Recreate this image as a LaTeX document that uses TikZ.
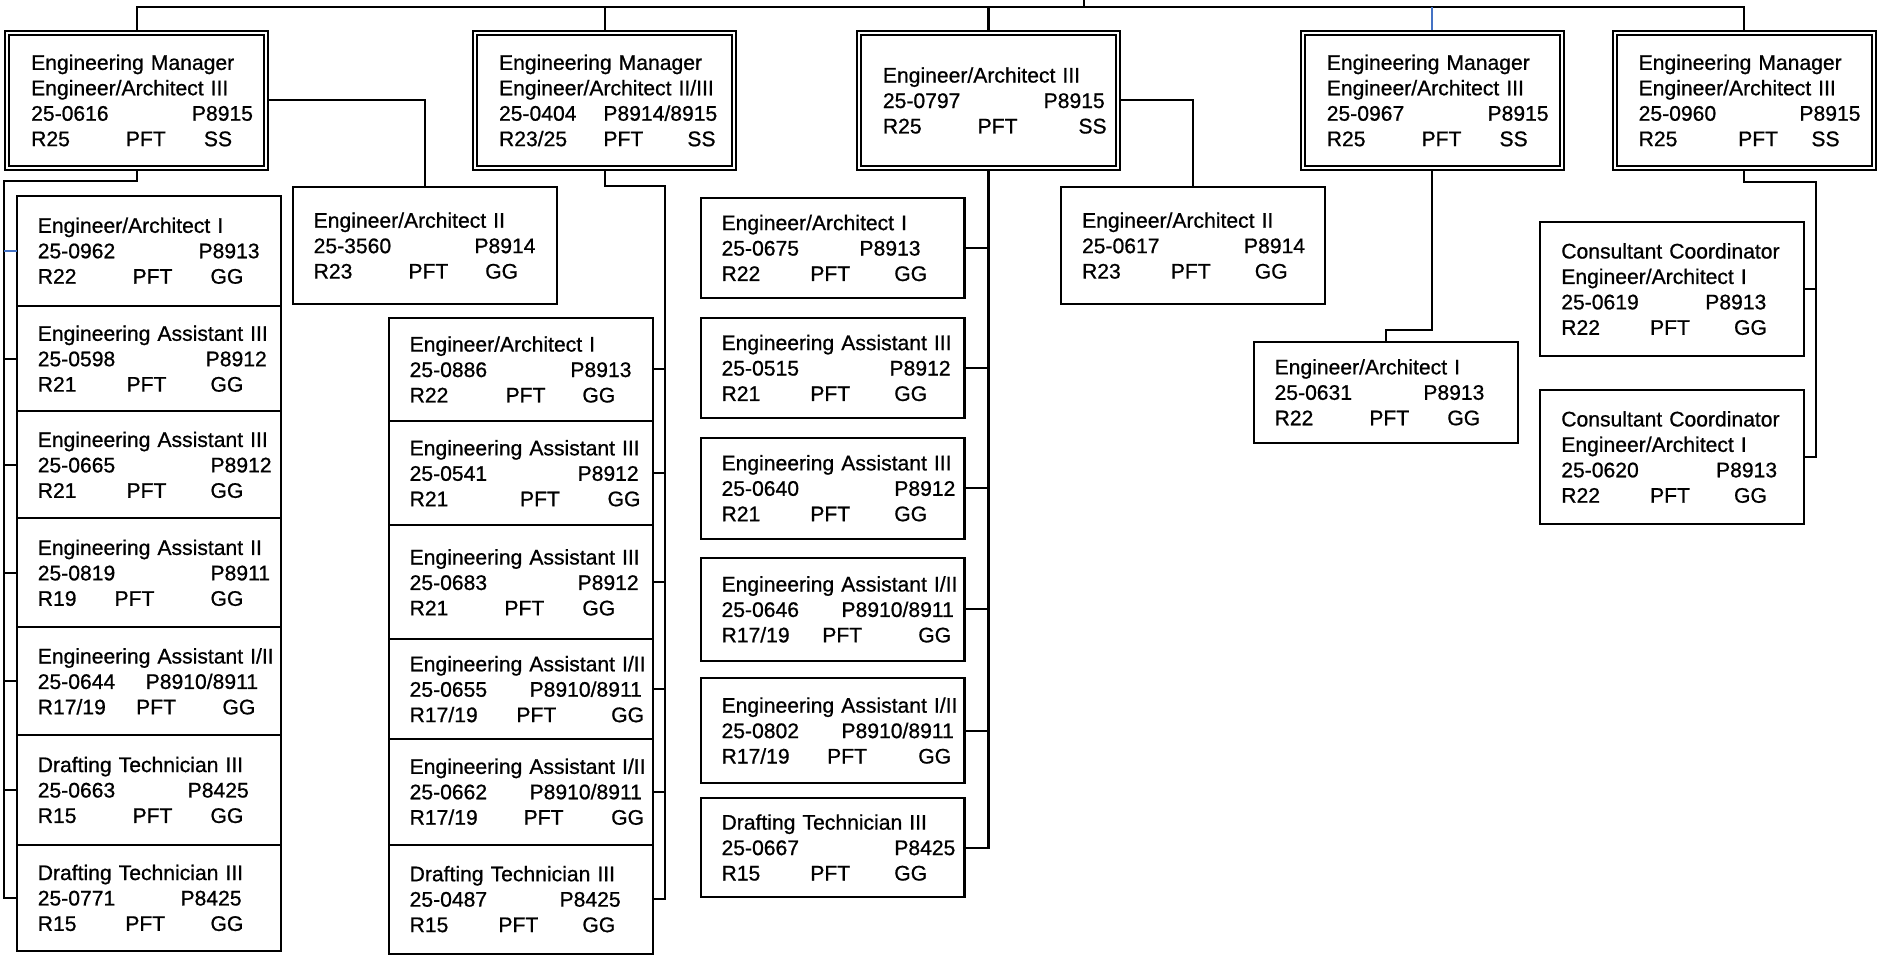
\documentclass[tikz,border=0pt]{standalone}
\usepackage{fontspec}
\setmainfont{Liberation Sans}[FakeBold=0.8]
\newlength\pxu
\setlength\pxu{0.5pt}
\newcommand\onl[1]{\makebox[0pt][l]{#1}}
\newcommand\tworow[3]{\makebox[0pt][l]{\makebox[0pt][l]{#1}\hspace*{#2\pxu}#3}}
\newcommand\threerow[5]{\makebox[0pt][l]{\makebox[0pt][l]{#1}\hspace*{#2\pxu}\makebox[0pt][l]{#3}\hspace*{\dimexpr#4\pxu-#2\pxu\relax}#5}}
\definecolor{linkblue}{RGB}{68,114,196}
\begin{document}
\begin{tikzpicture}[x=0.5pt,y=-0.5pt,
  every node/.style={font=\fontsize{8.8pt}{10.6pt}\selectfont},
  child/.style={draw, line width=0.85pt, inner xsep=8.75pt, inner ysep=0pt, outer sep=0pt,
    text width=92.5pt, align=left, anchor=north west},
  mgr/.style={draw, line width=0.8pt, double=white, double distance=0.85pt,
    inner xsep=10pt, inner ysep=0pt, outer sep=1.2pt, text width=88pt, align=left,
    minimum height=56.25pt},
  conn/.style={line width=0.85pt},
  connblue/.style={line width=0.85pt, draw=linkblue}]
\useasboundingbox (0,0) rectangle (1568,796);

% managers
\node[mgr] (m1) at (114,83.75) {\onl{Engineering Manager}\\\onl{Engineer/Architect III}\\\tworow{25-0616}{134}{P8915}\\\threerow{R25}{79}{PFT}{144}{SS}};
\node[mgr] (m2) at (504,83.75) {\onl{Engineering Manager}\\\onl{Engineer/Architect II/III}\\\tworow{25-0404}{87}{P8914/8915}\\\threerow{R23/25}{87}{PFT}{157}{SS}};
\node[mgr] (m3) at (824,83.75) {\onl{Engineer/Architect III}\\\tworow{25-0797}{134}{P8915}\\\threerow{R25}{79}{PFT}{163}{SS}};
\node[mgr] (m4) at (1194,83.75) {\onl{Engineering Manager}\\\onl{Engineer/Architect III}\\\tworow{25-0967}{134}{P8915}\\\threerow{R25}{79}{PFT}{144}{SS}};
\node[mgr] (m5) at (1454,83.75) {\onl{Engineering Manager}\\\onl{Engineer/Architect III}\\\tworow{25-0960}{134}{P8915}\\\threerow{R25}{83}{PFT}{144}{SS}};

% left column (under m1)
\node[child, minimum height=46pt] (l1) at (14,163) {\onl{Engineer/Architect I}\\\tworow{25-0962}{134}{P8913}\\\threerow{R22}{79}{PFT}{144}{GG}};
\node[child, minimum height=44pt] (l2) at (14,255) {\onl{Engineering Assistant III}\\\tworow{25-0598}{140}{P8912}\\\threerow{R21}{74}{PFT}{144}{GG}};
\node[child, minimum height=44.5pt] (l3) at (14,343) {\onl{Engineering Assistant III}\\\tworow{25-0665}{144}{P8912}\\\threerow{R21}{74}{PFT}{144}{GG}};
\node[child, minimum height=45.5pt] (l4) at (14,432) {\onl{Engineering Assistant II}\\\tworow{25-0819}{144}{P8911}\\\threerow{R19}{64}{PFT}{144}{GG}};
\node[child, minimum height=45pt] (l5) at (14,523) {\onl{Engineering Assistant I/II}\\\tworow{25-0644}{90}{P8910/8911}\\\threerow{R17/19}{82}{PFT}{154}{GG}};
\node[child, minimum height=45.5pt] (l6) at (14,613) {\onl{Drafting Technician III}\\\tworow{25-0663}{125}{P8425}\\\threerow{R15}{79}{PFT}{144}{GG}};
\node[child, minimum height=44.5pt] (l7) at (14,704) {\onl{Drafting Technician III}\\\tworow{25-0771}{119}{P8425}\\\threerow{R15}{73}{PFT}{144}{GG}};

\node[child, minimum height=48.75pt] (a3560) at (244,156) {\onl{Engineer/Architect II}\\\tworow{25-3560}{134}{P8914}\\\threerow{R23}{79}{PFT}{143}{GG}};

% column under m2
\node[child, minimum height=43pt] (c1) at (324,265) {\onl{Engineer/Architect I}\\\tworow{25-0886}{134}{P8913}\\\threerow{R22}{80}{PFT}{144}{GG}};
\node[child, minimum height=43.5pt] (c2) at (324,351) {\onl{Engineering Assistant III}\\\tworow{25-0541}{140}{P8912}\\\threerow{R21}{92}{PFT}{165}{GG}};
\node[child, minimum height=47.5pt] (c3) at (324,438) {\onl{Engineering Assistant III}\\\tworow{25-0683}{140}{P8912}\\\threerow{R21}{79}{PFT}{144}{GG}};
\node[child, minimum height=41.5pt] (c4) at (324,533) {\onl{Engineering Assistant I/II}\\\tworow{25-0655}{100}{P8910/8911}\\\threerow{R17/19}{89}{PFT}{168}{GG}};
\node[child, minimum height=44pt] (c5) at (324,616) {\onl{Engineering Assistant I/II}\\\tworow{25-0662}{100}{P8910/8911}\\\threerow{R17/19}{95}{PFT}{168}{GG}};
\node[child, minimum height=45.5pt] (c6) at (324,704) {\onl{Drafting Technician III}\\\tworow{25-0487}{125}{P8425}\\\threerow{R15}{74}{PFT}{144}{GG}};

% column under m3
\node[child, minimum height=41.75pt] (d1) at (584,165) {\onl{Engineer/Architect I}\\\tworow{25-0675}{115}{P8913}\\\threerow{R22}{74}{PFT}{144}{GG}};
\node[child, minimum height=41.75pt] (d2) at (584,265) {\onl{Engineering Assistant III}\\\tworow{25-0515}{140}{P8912}\\\threerow{R21}{74}{PFT}{144}{GG}};
\node[child, minimum height=42pt] (d3) at (584,365) {\onl{Engineering Assistant III}\\\tworow{25-0640}{144}{P8912}\\\threerow{R21}{74}{PFT}{144}{GG}};
\node[child, minimum height=43pt] (d4) at (584,465) {\onl{Engineering Assistant I/II}\\\tworow{25-0646}{100}{P8910/8911}\\\threerow{R17/19}{84}{PFT}{164}{GG}};
\node[child, minimum height=44pt] (d5) at (584,565) {\onl{Engineering Assistant I/II}\\\tworow{25-0802}{100}{P8910/8911}\\\threerow{R17/19}{88}{PFT}{164}{GG}};
\node[child, minimum height=41.5pt] (d6) at (584,665) {\onl{Drafting Technician III}\\\tworow{25-0667}{144}{P8425}\\\threerow{R15}{74}{PFT}{144}{GG}};

\node[child, minimum height=48.75pt] (e0617) at (884.5,156) {\onl{Engineer/Architect II}\\\tworow{25-0617}{135}{P8914}\\\threerow{R23}{74}{PFT}{144}{GG}};
\node[child, minimum height=42pt] (e0631) at (1045,285) {\onl{Engineer/Architect I}\\\tworow{25-0631}{124}{P8913}\\\threerow{R22}{79}{PFT}{144}{GG}};
\node[child, minimum height=56pt] (e0619) at (1284,185) {\onl{Consultant Coordinator}\\\onl{Engineer/Architect I}\\\tworow{25-0619}{120}{P8913}\\\threerow{R22}{74}{PFT}{144}{GG}};
\node[child, minimum height=56pt] (e0620) at (1284,325) {\onl{Consultant Coordinator}\\\onl{Engineer/Architect I}\\\tworow{25-0620}{129}{P8913}\\\threerow{R22}{74}{PFT}{144}{GG}};

% top bus
\coordinate (top) at (904,0);
\coordinate (bus) at (904,5.5);
\draw[conn] (top) -- (bus);
\draw[conn] (m1.north) |- (bus) -| (m5.north);
\draw[conn] (m2.north) -- (m2.north |- bus);
\draw[conn] (m3.north) -- (m3.north |- bus);
\draw[connblue] (m4.north) -- (m4.north |- bus);

% m1 connectors
\coordinate (lsp) at (3.7,150.5);
\draw[conn] (m1.south) |- (lsp) |- (l7.west);
\foreach \n in {l2,l3,l4,l5,l6} \draw[conn] (\n.west -| lsp) -- (\n.west);
\draw[connblue] (l1.west -| lsp) -- (l1.west);
\draw[conn] (m1.east) -| (a3560.north);

% m2 connectors
\coordinate (csp) at (554,155);
\draw[conn] (m2.south) |- (csp) |- (c6.east);
\foreach \n in {c1,c2,c3,c4,c5} \draw[conn] (\n.east -| csp) -- (\n.east);

% m3 connectors
\draw[conn] (m3.south) |- (d6.east);
\foreach \n in {d1,d2,d3,d4,d5} \draw[conn] (\n.east -| m3.south) -- (\n.east);
\draw[conn] (m3.east) -| (e0617.north);

% m4 connectors
\draw[conn] (m4.south) -- ++(0,132.5) -| (e0631.north);

% m5 connectors
\coordinate (fsp) at (1514,152);
\draw[conn] (m5.south) |- (fsp) |- (e0620.east);
\draw[conn] (e0619.east -| fsp) -- (e0619.east);
\end{tikzpicture}
\end{document}
